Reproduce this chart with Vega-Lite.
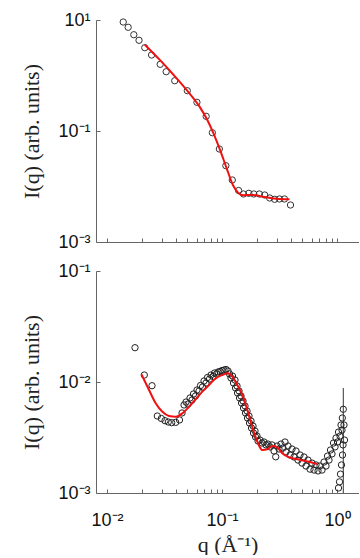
{
  "$schema": "https://vega.github.io/schema/vega-lite/v6.json",
  "background": "white",
  "padding": {"left": 20, "top": 11, "right": 0, "bottom": 0},
  "spacing": 11,
  "config": {
    "view": {"stroke": null},
    "axis": {
      "domainColor": "#666", "tickColor": "#666", "grid": false,
      "labelFont": "Liberation Sans", "labelFontSize": 18, "labelColor": "#111",
      "titleFont": "Liberation Serif", "titleFontSize": 22, "titleFontWeight": "normal", "titleColor": "#222",
      "tickSize": -4, "labelOverlap": false
    }
  },
  "datasets": {
    "sans": [
      {"q": 0.01383, "I": 9.2}, {"q": 0.01527, "I": 7.39}, {"q": 0.0171, "I": 5.43}, {"q": 0.01898, "I": 4.31},
      {"q": 0.0213, "I": 3.17}, {"q": 0.0244, "I": 2.34}, {"q": 0.029, "I": 1.59}, {"q": 0.0327, "I": 1.17},
      {"q": 0.0388, "I": 0.805}, {"q": 0.0499, "I": 0.532}, {"q": 0.0605, "I": 0.329}, {"q": 0.0728, "I": 0.184},
      {"q": 0.0824, "I": 0.0931}, {"q": 0.0948, "I": 0.0474}, {"q": 0.108, "I": 0.0237}, {"q": 0.1228, "I": 0.0131},
      {"q": 0.1394, "I": 0.00847}, {"q": 0.1538, "I": 0.00733}, {"q": 0.171, "I": 0.00754}, {"q": 0.1888, "I": 0.00733},
      {"q": 0.2113, "I": 0.00733}, {"q": 0.235, "I": 0.00703}, {"q": 0.2596, "I": 0.00621}, {"q": 0.2866, "I": 0.00588},
      {"q": 0.316, "I": 0.00596}, {"q": 0.349, "I": 0.00596}, {"q": 0.394, "I": 0.00464}
    ],
    "sansfit": [
      {"q": 0.0213, "I": 3.6}, {"q": 0.0292, "I": 1.85}, {"q": 0.038, "I": 1.02}, {"q": 0.0496, "I": 0.538},
      {"q": 0.0646, "I": 0.264}, {"q": 0.0738, "I": 0.165}, {"q": 0.0841, "I": 0.0918}, {"q": 0.0961, "I": 0.0458},
      {"q": 0.11, "I": 0.021}, {"q": 0.125, "I": 0.0104}, {"q": 0.138, "I": 0.00773}, {"q": 0.153, "I": 0.00697},
      {"q": 0.186, "I": 0.00703}, {"q": 0.227, "I": 0.00655}, {"q": 0.296, "I": 0.00603}, {"q": 0.386, "I": 0.00588}
    ],
    "saxs": [
      {"q": 0.01751, "I": 0.02037}, {"q": 0.0211, "I": 0.01156}, {"q": 0.02462, "I": 0.00926}, {"q": 0.02738, "I": 0.00494},
      {"q": 0.02967, "I": 0.00469}, {"q": 0.03194, "I": 0.00448}, {"q": 0.03412, "I": 0.00436}, {"q": 0.03652, "I": 0.0043},
      {"q": 0.03958, "I": 0.00433}, {"q": 0.04271, "I": 0.00455}, {"q": 0.04491, "I": 0.00526}, {"q": 0.04674, "I": 0.00621},
      {"q": 0.04864, "I": 0.0066}, {"q": 0.05062, "I": 0.00633}, {"q": 0.05268, "I": 0.00718}, {"q": 0.05483, "I": 0.00688},
      {"q": 0.05651, "I": 0.0078}, {"q": 0.05882, "I": 0.00748}, {"q": 0.06061, "I": 0.00847}, {"q": 0.0631, "I": 0.0083},
      {"q": 0.06501, "I": 0.0093}, {"q": 0.06766, "I": 0.00902}, {"q": 0.06973, "I": 0.01021}, {"q": 0.07258, "I": 0.00979},
      {"q": 0.07479, "I": 0.01098}, {"q": 0.07785, "I": 0.01064}, {"q": 0.08022, "I": 0.01156}, {"q": 0.0835, "I": 0.01121},
      {"q": 0.08605, "I": 0.01205}, {"q": 0.08957, "I": 0.01181}, {"q": 0.0923, "I": 0.01231}, {"q": 0.09607, "I": 0.01244},
      {"q": 0.1, "I": 0.01269}, {"q": 0.1041, "I": 0.01282}, {"q": 0.1083, "I": 0.01296}, {"q": 0.1128, "I": 0.01257},
      {"q": 0.1162, "I": 0.01181}, {"q": 0.1197, "I": 0.01087}, {"q": 0.1234, "I": 0.01132}, {"q": 0.1259, "I": 0.00979},
      {"q": 0.1297, "I": 0.01042}, {"q": 0.1311, "I": 0.00883}, {"q": 0.1351, "I": 0.0092}, {"q": 0.1364, "I": 0.00796},
      {"q": 0.1406, "I": 0.0083}, {"q": 0.142, "I": 0.00718}, {"q": 0.1463, "I": 0.00748}, {"q": 0.1478, "I": 0.00647},
      {"q": 0.1523, "I": 0.00674}, {"q": 0.1538, "I": 0.00583}, {"q": 0.1585, "I": 0.00608}, {"q": 0.1601, "I": 0.00526},
      {"q": 0.165, "I": 0.00548}, {"q": 0.1666, "I": 0.00474}, {"q": 0.1717, "I": 0.00494}, {"q": 0.1734, "I": 0.00427},
      {"q": 0.1788, "I": 0.00445}, {"q": 0.1805, "I": 0.00385}, {"q": 0.1861, "I": 0.00401}, {"q": 0.1879, "I": 0.00347},
      {"q": 0.1936, "I": 0.00362}, {"q": 0.1956, "I": 0.0032}, {"q": 0.2015, "I": 0.00326}, {"q": 0.2056, "I": 0.00294},
      {"q": 0.214, "I": 0.003}, {"q": 0.2228, "I": 0.00282}, {"q": 0.2318, "I": 0.00288}, {"q": 0.2413, "I": 0.00271},
      {"q": 0.2512, "I": 0.00276}, {"q": 0.2615, "I": 0.0026}, {"q": 0.2722, "I": 0.00271}, {"q": 0.2833, "I": 0.00239},
      {"q": 0.2931, "I": 0.00212}, {"q": 0.3007, "I": 0.00265}, {"q": 0.313, "I": 0.00249}, {"q": 0.3258, "I": 0.00276},
      {"q": 0.3391, "I": 0.00254}, {"q": 0.353, "I": 0.00288}, {"q": 0.3601, "I": 0.00234}, {"q": 0.3749, "I": 0.00265},
      {"q": 0.3902, "I": 0.0022}, {"q": 0.4062, "I": 0.00249}, {"q": 0.4228, "I": 0.00211}, {"q": 0.44, "I": 0.00239},
      {"q": 0.458, "I": 0.00198}, {"q": 0.4767, "I": 0.0022}, {"q": 0.4962, "I": 0.00186}, {"q": 0.5164, "I": 0.00211},
      {"q": 0.5375, "I": 0.00175}, {"q": 0.5595, "I": 0.00198}, {"q": 0.5824, "I": 0.00164}, {"q": 0.6062, "I": 0.00186},
      {"q": 0.631, "I": 0.00161}, {"q": 0.6568, "I": 0.00179}, {"q": 0.6836, "I": 0.00158}, {"q": 0.7116, "I": 0.00175},
      {"q": 0.7406, "I": 0.00161}, {"q": 0.7709, "I": 0.0019}, {"q": 0.8024, "I": 0.00175}, {"q": 0.8268, "I": 0.00215},
      {"q": 0.852, "I": 0.00198}, {"q": 0.878, "I": 0.00244}, {"q": 0.9048, "I": 0.00225}, {"q": 0.9324, "I": 0.00282},
      {"q": 0.9608, "I": 0.0026}, {"q": 0.9801, "I": 0.00313}, {"q": 1.01, "I": 0.00288}, {"q": 1.03, "I": 0.00354},
      {"q": 1.062, "I": 0.00326}, {"q": 1.083, "I": 0.0041}, {"q": 1.105, "I": 0.00369}, {"q": 1.112, "I": 0.00474},
      {"q": 1.134, "I": 0.00568}, {"q": 1.128, "I": 0.00271}, {"q": 1.116, "I": 0.0022}, {"q": 1.094, "I": 0.00179},
      {"q": 1.072, "I": 0.00148}, {"q": 1.051, "I": 0.00126}, {"q": 1.03, "I": 0.00111}, {"q": 1.15, "I": 0.0041},
      {"q": 1.162, "I": 0.003}
    ],
    "saxsfit": [
      {"q": 0.01995, "I": 0.01169}, {"q": 0.0232, "I": 0.00847}, {"q": 0.0265, "I": 0.00643}, {"q": 0.0303, "I": 0.00539},
      {"q": 0.0346, "I": 0.00494}, {"q": 0.0396, "I": 0.00486}, {"q": 0.0452, "I": 0.00522}, {"q": 0.0516, "I": 0.00598},
      {"q": 0.059, "I": 0.00698}, {"q": 0.0674, "I": 0.00818}, {"q": 0.0771, "I": 0.0094}, {"q": 0.0881, "I": 0.01079},
      {"q": 0.1006, "I": 0.01156}, {"q": 0.1127, "I": 0.01197}, {"q": 0.1229, "I": 0.01117}, {"q": 0.1358, "I": 0.0094},
      {"q": 0.1503, "I": 0.00764}, {"q": 0.166, "I": 0.0056}, {"q": 0.1831, "I": 0.00395}, {"q": 0.2027, "I": 0.0029},
      {"q": 0.2239, "I": 0.00244}, {"q": 0.2477, "I": 0.00248}, {"q": 0.2735, "I": 0.00265}, {"q": 0.3027, "I": 0.00258},
      {"q": 0.3342, "I": 0.00228}, {"q": 0.3828, "I": 0.0021}, {"q": 0.4519, "I": 0.00201}, {"q": 0.5718, "I": 0.00191},
      {"q": 0.6745, "I": 0.00182}
    ],
    "err": [{"q": 1.134, "lo": 0.001, "hi": 0.00883}]
  },
  "vconcat": [
    {
      "width": 263, "height": 222,
      "layer": [
        {
          "data": {"name": "sans"},
          "mark": {"type": "point", "shape": "circle", "filled": false, "size": 40, "stroke": "#333", "strokeWidth": 1, "opacity": 1},
          "encoding": {
            "x": {"field": "q", "type": "quantitative", "scale": {"type": "log", "domain": [0.00802, 1.553], "nice": false},
              "axis": {"title": null, "labels": false, "minExtent": 0, "maxExtent": 0, "values": [0.01,0.02,0.03,0.04,0.05,0.06,0.07,0.08,0.09,0.1,0.2,0.3,0.4,0.5,0.6,0.7,0.8,0.9,1]}},
            "y": {"field": "I", "type": "quantitative", "scale": {"type": "log", "domain": [0.001, 10], "nice": false},
              "axis": {"title": "I(q) (arb. units)", "values": [0.001, 0.1, 10], "labelPadding": 10, "titlePadding": 14,
                "labelExpr": "datum.value > 5 ? '10¹' : datum.value > 0.05 ? '10⁻¹' : '10⁻³'"}}
          }
        },
        {
          "data": {"name": "sansfit"},
          "mark": {"type": "line", "color": "#ee1111", "strokeWidth": 2, "interpolate": "monotone"},
          "encoding": {"x": {"field": "q", "type": "quantitative"}, "y": {"field": "I", "type": "quantitative"}}
        },
        {
          "mark": {"type": "text", "text": "SANS", "font": "Lato", "fontSize": 28, "align": "center", "baseline": "middle", "color": "#000"},
          "encoding": {"x": {"datum": 0.423, "type": "quantitative"}, "y": {"datum": 2.44, "type": "quantitative"}}
        },
        {
          "mark": {"type": "text", "text": "(b)", "font": "Liberation Sans", "fontSize": 15, "align": "center", "baseline": "middle", "color": "#000"},
          "encoding": {"x": {"datum": 0.02275, "type": "quantitative"}, "y": {"datum": 0.00505, "type": "quantitative"}}
        }
      ]
    },
    {
      "width": 263, "height": 222,
      "layer": [
        {
          "data": {"name": "err"},
          "mark": {"type": "rule", "color": "#333", "strokeWidth": 1},
          "encoding": {
            "x": {"field": "q", "type": "quantitative", "scale": {"type": "log", "domain": [0.00802, 1.553], "nice": false},
              "axis": {"title": "q (Å⁻¹)", "labelPadding": 22, "titlePadding": 5,
                "values": [0.01,0.02,0.03,0.04,0.05,0.06,0.07,0.08,0.09,0.1,0.2,0.3,0.4,0.5,0.6,0.7,0.8,0.9,1],
                "labelExpr": "datum.value == 0.01 ? '10⁻²' : datum.value == 0.1 ? '10⁻¹' : datum.value == 1 ? '10⁰' : ''"}},
            "y": {"field": "lo", "type": "quantitative", "scale": {"type": "log", "domain": [0.001, 0.1], "nice": false},
              "axis": {"title": "I(q) (arb. units)", "values": [0.001, 0.01, 0.1], "labelPadding": 10, "titlePadding": 14,
                "labelExpr": "datum.value > 0.05 ? '10⁻¹' : datum.value > 0.005 ? '10⁻²' : '10⁻³'"}},
            "y2": {"field": "hi"}
          }
        },
        {
          "data": {"name": "saxs"},
          "mark": {"type": "point", "shape": "circle", "filled": false, "size": 40, "stroke": "#222", "strokeWidth": 1, "opacity": 1},
          "encoding": {"x": {"field": "q", "type": "quantitative"}, "y": {"field": "I", "type": "quantitative"}}
        },
        {
          "data": {"name": "saxsfit"},
          "mark": {"type": "line", "color": "#ee1111", "strokeWidth": 2, "interpolate": "monotone"},
          "encoding": {"x": {"field": "q", "type": "quantitative"}, "y": {"field": "I", "type": "quantitative"}}
        },
        {
          "mark": {"type": "text", "text": "SAXS", "font": "Lato", "fontSize": 28, "align": "center", "baseline": "middle", "color": "#000"},
          "encoding": {"x": {"datum": 0.445, "type": "quantitative"}, "y": {"datum": 0.0419, "type": "quantitative"}}
        },
        {
          "mark": {"type": "text", "text": "(c)", "font": "Liberation Sans", "fontSize": 15, "align": "center", "baseline": "middle", "color": "#000"},
          "encoding": {"x": {"datum": 0.0225, "type": "quantitative"}, "y": {"datum": 0.0474, "type": "quantitative"}}
        }
      ]
    }
  ]
}
